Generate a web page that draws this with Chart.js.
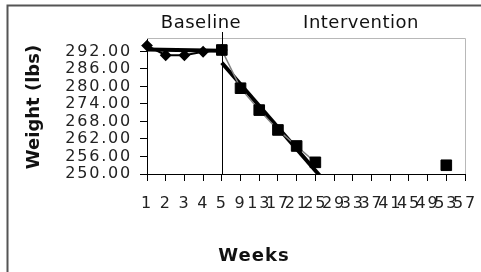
<!DOCTYPE html>
<html lang="en">
<head>
  <meta charset="UTF-8">
  <title>Weight - Baseline / Intervention</title>
  <script src="https://cdn.jsdelivr.net/npm/chart.js"></script>
  <style>
    html, body {
      margin: 0;
      padding: 0;
      background: #fff;
    }
    #wrap {
      width: 481px;
      height: 272px;
    }
  </style>
</head>
<body>
  <div id="wrap">
    <canvas id="weightChart" width="481" height="272"></canvas>
  </div>

  <script>
    // Data
    const weeks = ['1', '2', '3', '4', '5', '9', '13', '17', '21', '25', '29', '33', '37', '41', '45', '49', '53', '57'];
    const baseline = [294, 290.7, 290.7, 291.9, 292.5, null, null, null, null, null, null, null, null, null, null, null, null, null];
    const intervention = [null, null, null, null, 292.5, 279.4, 271.9, 265.1, 259.6, 254.0, null, null, null, null, null, null, 253.0, null];
    // trend lines as drawn (end values only, the intervention one runs past the axis floor)
    const baselineTrend = [292.7, null, null, null, 292.2, null, null, null, null, null, null, null, null, null, null, null, null, null];
    const interventionTrend = [null, null, null, null, 288.1, null, null, null, null, null, 243.8, null, null, null, null, null, null, null];
    const yTicks = [250, 256, 262, 268, 274, 280, 286, 292];
    const phaseWeek = '5';

    const FONT = 'DejaVu Sans';

    // tick labels in the picture are drawn wide, so space them out a bit
    const decor = {
      id: 'decor',
      beforeLayout(chart) {
        chart.ctx.letterSpacing = '1.8px';
      },
      beforeDraw(chart) {
        chart.ctx.letterSpacing = '1.8px';
      },
      beforeDatasetsDraw(chart) {
        const ctx = chart.ctx;
        const a = chart.chartArea;
        const x = chart.scales.x;
        ctx.save();
        // light plot border top and right
        ctx.strokeStyle = '#b8b8b8';
        ctx.lineWidth = 1;
        ctx.beginPath();
        ctx.moveTo(a.left, a.top + 0.5);
        ctx.lineTo(a.right + 0.5, a.top + 0.5);
        ctx.lineTo(a.right + 0.5, a.bottom);
        ctx.stroke();
        // phase change line
        const px = Math.round(x.getPixelForValue(weeks.indexOf(phaseWeek))) + 0.5;
        ctx.strokeStyle = '#000';
        ctx.beginPath();
        ctx.moveTo(px, 32);
        ctx.lineTo(px, a.bottom);
        ctx.stroke();
        ctx.restore();
      },
      afterDraw(chart) {
        const ctx = chart.ctx;
        ctx.save();
        ctx.fillStyle = '#111';
        ctx.textAlign = 'center';

        ctx.letterSpacing = '0.5px';
        ctx.font = '18px "' + FONT + '"';
        ctx.textBaseline = 'alphabetic';
        ctx.fillText('Baseline', 201, 28);
        ctx.fillText('Intervention', 361, 28);

        ctx.letterSpacing = '1px';
        ctx.font = 'bold 18px "' + FONT + '"';
        ctx.textBaseline = 'middle';
        ctx.fillText('Weeks', 254, 256);

        ctx.letterSpacing = '0px';
        ctx.translate(34, 107);
        ctx.rotate(-Math.PI / 2);
        ctx.fillText('Weight (lbs)', 0, 0);
        ctx.restore();

        // outer frame (only top and left show in the picture)
        ctx.save();
        ctx.strokeStyle = '#555';
        ctx.lineWidth = 2;
        ctx.beginPath();
        ctx.moveTo(7.5, 272);
        ctx.lineTo(7.5, 5.5);
        ctx.lineTo(481, 5.5);
        ctx.stroke();
        ctx.restore();
      }
    };

    const ctx = document.getElementById('weightChart').getContext('2d');
    new Chart(ctx, {
      type: 'line',
      data: {
        labels: weeks,
        datasets: [
          {
            label: 'Intervention',
            data: intervention,
            borderColor: '#808080',
            borderWidth: 1.5,
            pointStyle: 'rect',
            pointRadius: 7.5,
            pointBackgroundColor: '#000',
            pointBorderColor: '#000',
            pointBorderWidth: 1,
            order: 0
          },
          {
            label: 'Baseline',
            data: baseline,
            borderColor: '#000',
            borderWidth: 2,
            pointStyle: 'rectRot',
            pointRadius: 4.5,
            pointBackgroundColor: '#000',
            pointBorderColor: '#000',
            order: 1
          },
          {
            label: 'Baseline trend',
            data: baselineTrend,
            borderColor: '#000',
            borderWidth: 4,
            pointRadius: 0,
            spanGaps: true,
            order: 2
          },
          {
            label: 'Intervention trend',
            data: interventionTrend,
            borderColor: '#000',
            borderWidth: 4,
            pointRadius: 0,
            spanGaps: true,
            clip: 0,
            order: 2
          }
        ]
      },
      options: {
        responsive: false,
        animation: false,
        events: [],
        layout: {
          padding: { left: 0, top: 38, right: 16, bottom: 0 }
        },
        plugins: {
          legend: { display: false },
          tooltip: { enabled: false }
        },
        scales: {
          x: {
            type: 'category',
            offset: false,
            grid: {
              display: true,
              drawOnChartArea: false,
              drawTicks: true,
              tickLength: 7,
              color: '#000'
            },
            border: { display: true, color: '#000', width: 1 },
            ticks: {
              autoSkip: false,
              maxRotation: 0,
              minRotation: 0,
              padding: 13,
              color: '#222',
              font: { family: FONT, size: 16 }
            },
            afterFit(scale) {
              scale.height = 98;
              scale.paddingLeft = 0;
              scale.paddingRight = 0;
            }
          },
          y: {
            min: 250,
            max: 296.6,
            grid: {
              display: true,
              drawOnChartArea: false,
              drawTicks: true,
              tickLength: 7,
              color: '#000'
            },
            border: { display: true, color: '#000', width: 1 },
            ticks: {
              autoSkip: false,
              padding: 8,
              color: '#222',
              font: { family: FONT, size: 16 },
              callback: (v) => Number(v).toFixed(2)
            },
            afterBuildTicks(axis) {
              axis.ticks = yTicks.map(v => ({ value: v }));
            },
            afterFit(scale) {
              scale.width = 147;
            }
          }
        }
      },
      plugins: [decor]
    });
  </script>
</body>
</html>
